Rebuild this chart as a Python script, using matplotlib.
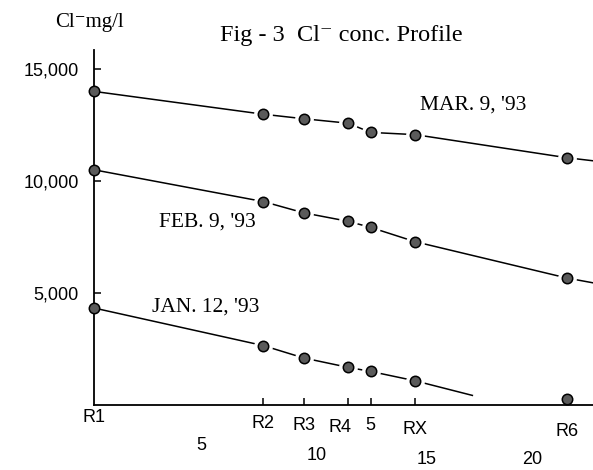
import matplotlib
matplotlib.use('Agg')
import matplotlib.pyplot as plt

# ---------------- data ----------------
stations = ['R1', 'R2', 'R3', 'R4', 'R5', 'RX', 'R6']
station_labels = ['R1', 'R2', 'R3', 'R4', '5', 'RX', 'R6']
station_km = [0.0, 7.6, 9.4, 11.4, 12.4, 14.4, 21.2]

km_ticks = [5, 10, 15, 20]
km_tick_labels = ['5', '10', '15', '20']

y_ticks = [5000, 10000, 15000]
y_tick_labels = ['5,000', '10,000', '15,000']

mar_cl = [14000, 12980, 12780, 12580, 12170, 12070, 11040]
feb_cl = [10500, 9080, 8580, 8200, 7930, 7290, 5670]
jan_cl = [4330, 2650, 2100, 1680, 1500, 1080, 260]

# where each drawn profile line stops (km, mg/l)
mar_line_end = (22.4, 10900)
feb_line_end = (22.4, 5450)
jan_line_end = (17.0, 420)

series_names = ["MAR. 9, '93", "FEB. 9, '93", "JAN. 12, '93"]
series_label_pos = [(17.0, 13400), (5.1, 8180), (5.0, 4380)]

title = "Fig - 3  Cl\u207b conc. Profile"
y_unit = "Cl\u207bmg/l"

# ---------------- figure ----------------
W, H = 593, 470
fig = plt.figure(figsize=(W / 100, H / 100), dpi=100)
fig.patch.set_facecolor('white')

left_px, bottom_px, top_px = 94, 405, 50
ax = fig.add_axes([left_px / W, 1 - bottom_px / H, 1 - left_px / W,
                   (bottom_px - top_px) / H])
ax.set_xlim(0, (W - left_px) / 22.3)
ax.set_ylim(0, (bottom_px - top_px) / 22.4 * 1000)

for s in ['top', 'right']:
    ax.spines[s].set_visible(False)
for s in ['left', 'bottom']:
    ax.spines[s].set_linewidth(1.3)
    ax.spines[s].set_color('black')
    ax.spines[s].set_zorder(2.5)

serif = ['Liberation Serif', 'DejaVu Serif']
sans = ['Liberation Sans', 'DejaVu Sans']

# y ticks
ax.set_yticks(y_ticks)
ax.set_yticklabels(y_tick_labels, family=sans, fontsize=13)
ax.tick_params(axis='y', direction='in', length=5, width=1.1, pad=11)

# x ticks: only station ticks between R1 and R6 (pointing up)
ax.set_xticks(station_km[1:6])
ax.set_xticklabels([])
ax.tick_params(axis='x', direction='in', length=5, width=1.1)

xtrans = ax.get_xaxis_transform()
label_dx = [0, 0, 0, -8, 0, 0, 0]
label_dy = [-12, -19, -20, -22, -21, -24, -27]
for km, lab, dx, dy in zip(station_km, station_labels, label_dx, label_dy):
    ax.annotate(lab, xy=(km, 0), xycoords=xtrans, xytext=(dx, dy),
                textcoords='offset pixels', ha='center', va='center',
                family=sans, fontsize=13, annotation_clip=False)
num_dx = [-4, 0, -2, -8]
num_dy = [-41, -50, -54, -55]
for km, lab, dx, dy in zip(km_ticks, km_tick_labels, num_dx, num_dy):
    ax.annotate(lab, xy=(km, 0), xycoords=xtrans, xytext=(dx, dy),
                textcoords='offset pixels', ha='center', va='center',
                family=sans, fontsize=13, annotation_clip=False)


def profile(vals, end, n_line):
    xs = station_km[:n_line] + [end[0]]
    ys = vals[:n_line] + [end[1]]
    ax.plot(xs, ys, color='black', lw=1.1, zorder=2, solid_capstyle='butt')
    # white halo for gaps around markers
    ax.plot(station_km[1:], vals[1:], 'o', ms=12.5, mfc='white', mec='white',
            zorder=2.2, clip_on=False)
    ax.plot(station_km, vals, 'o', ms=7.5, mfc='#5a5a5a', mec='black',
            mew=1.1, zorder=3, clip_on=False)


profile(mar_cl, mar_line_end, 7)
profile(feb_cl, feb_line_end, 7)
profile(jan_cl, jan_line_end, 6)

for name, (x, y) in zip(series_names, series_label_pos):
    ax.text(x, y, name, ha='center', va='center', family=serif, fontsize=15.5)

fig.text(341 / W, 1 - 35 / H, title, ha='center', va='center',
         family=serif, fontsize=17.5)
fig.text(89 / W, 1 - 23 / H, y_unit, ha='center', va='center',
         family=serif, fontsize=15)

fig.savefig('out.png', dpi=100, facecolor='white')
